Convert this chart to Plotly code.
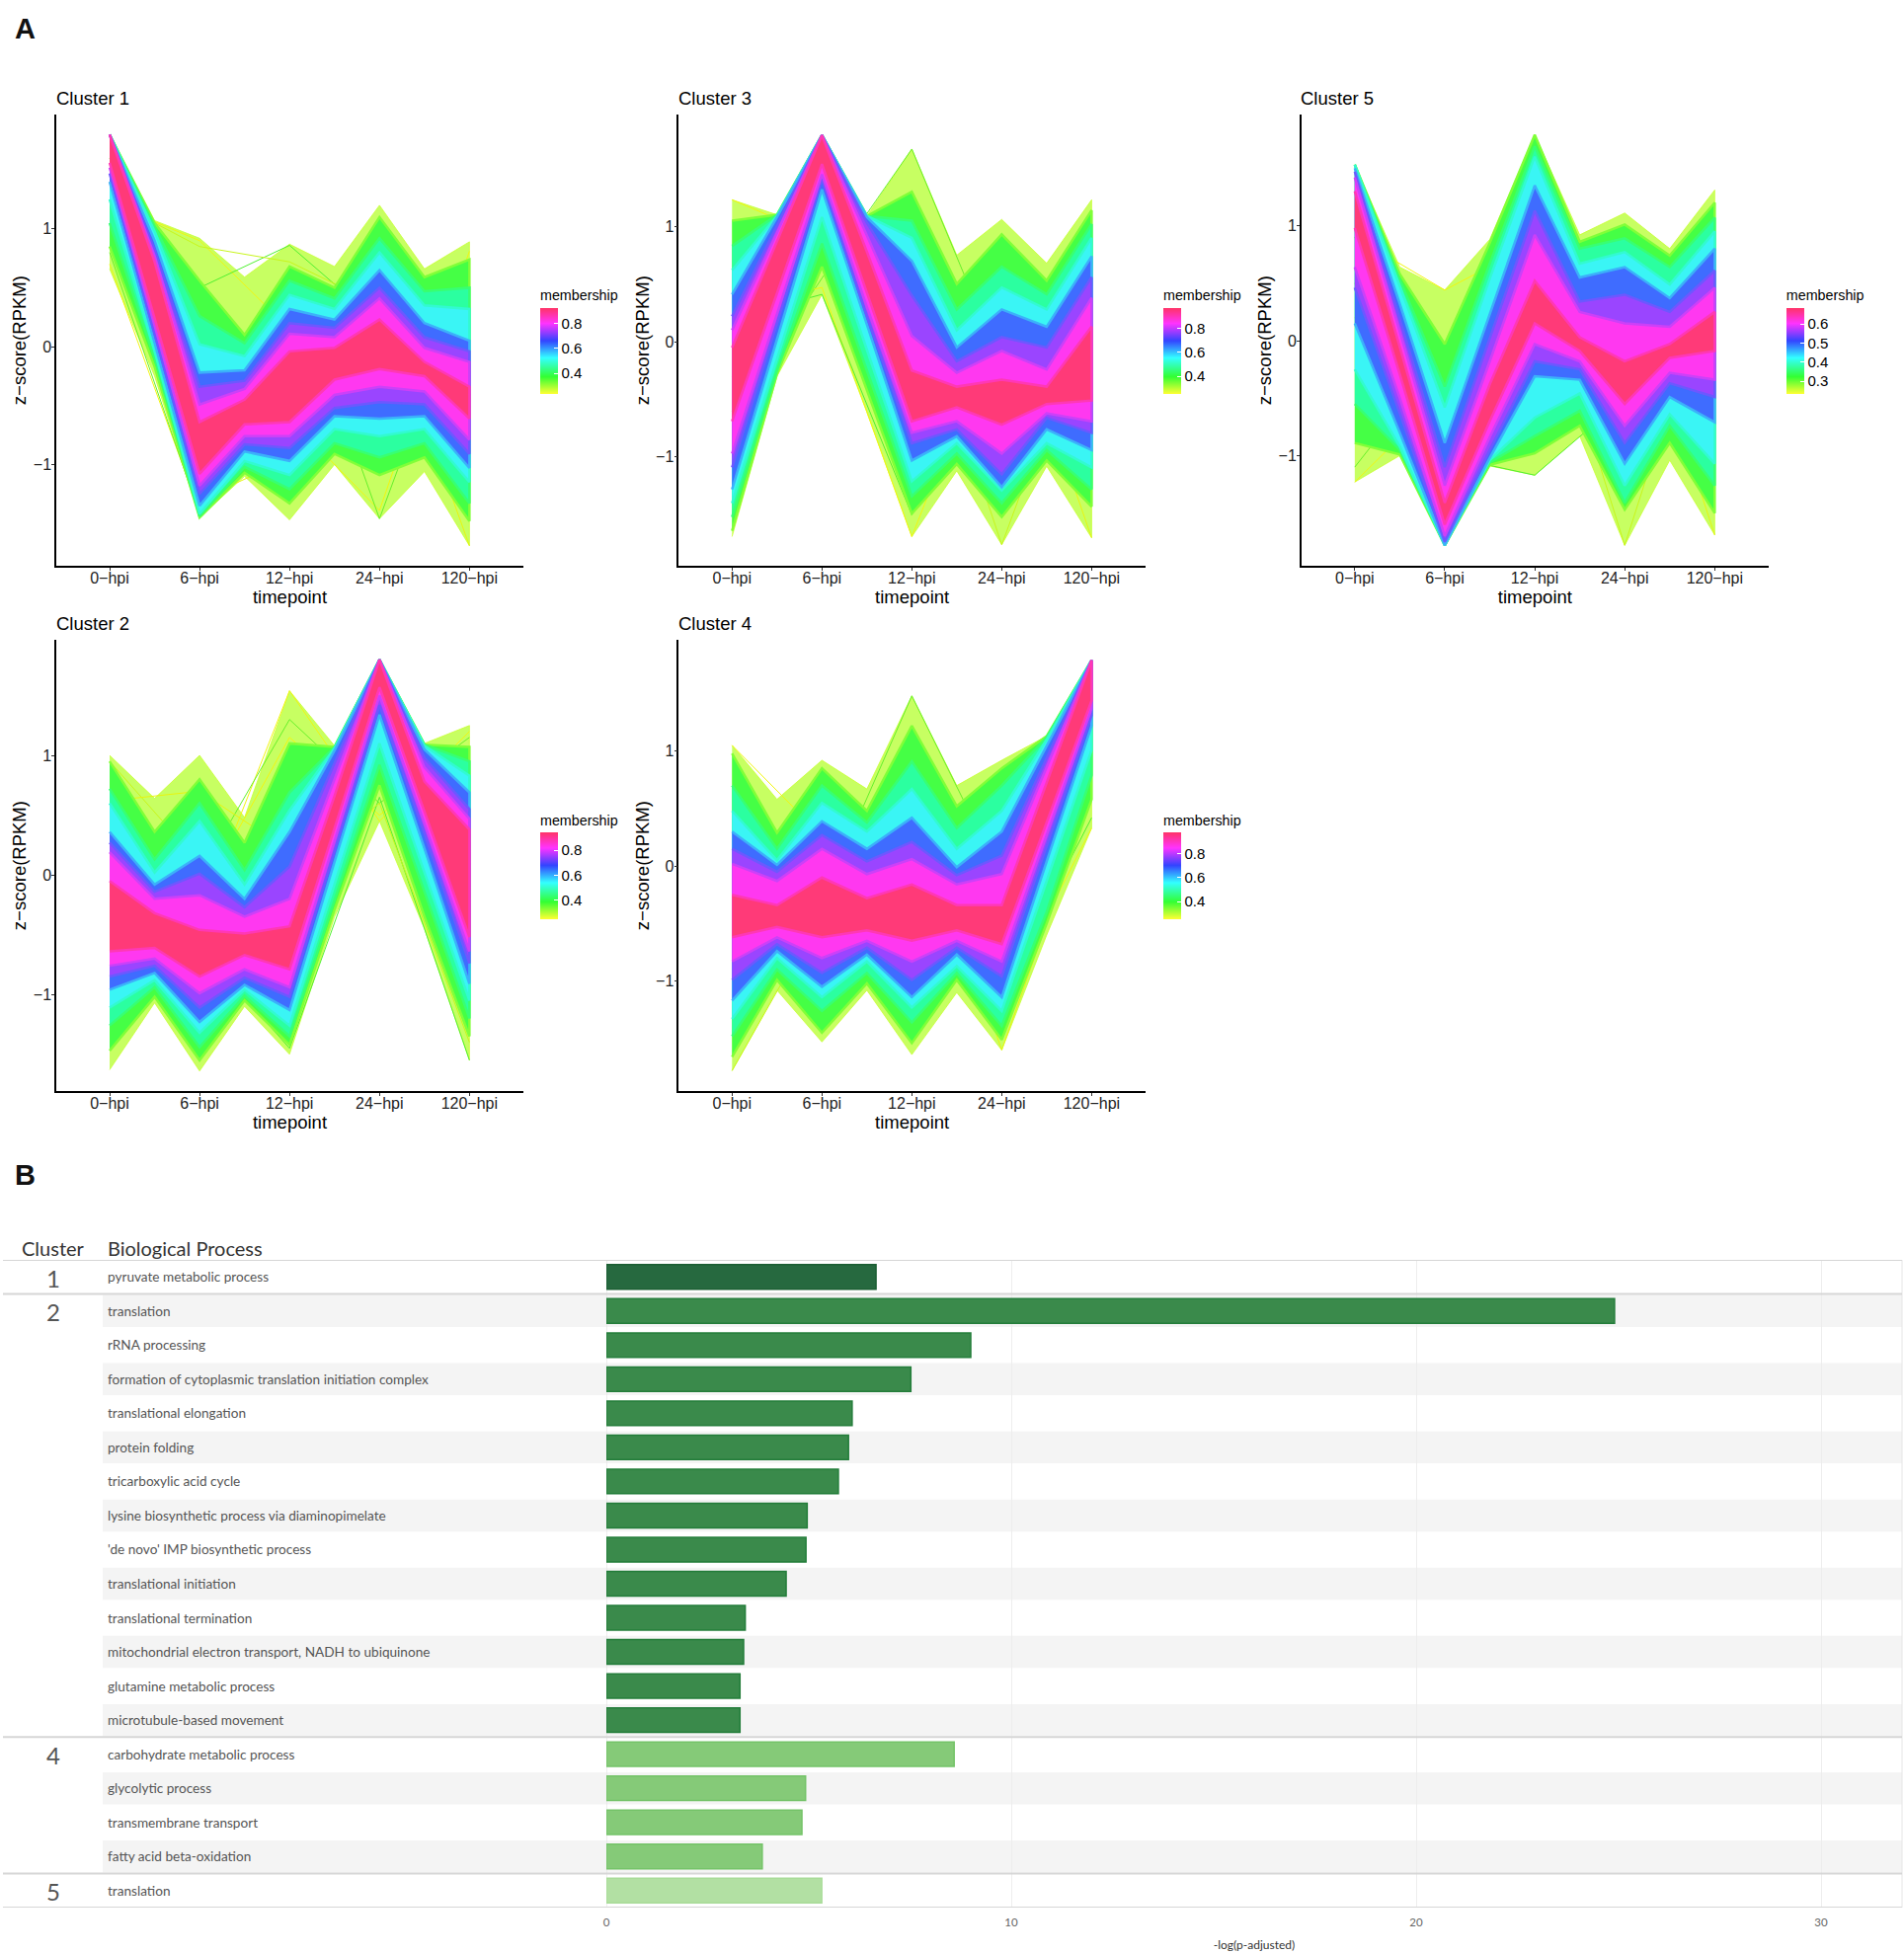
import plotly.graph_objects as go

W, H = 1928, 1979

TIME_GRID = [0, 0.5, 1, 1.5, 2, 2.5, 3, 3.5, 4]
TIME_TICKS = [0, 1, 2, 3, 4]
TIME_LABELS = ["0−hpi", "6−hpi", "12−hpi", "24−hpi", "120−hpi"]
Z_TICKS = [-1, 0, 1]
Z_LABELS = ["−1", "0", "1"]
BAND_COLORS = ["rgba(180,255,45,0.75)", "#45FF45", "#2BFFA0", "#3AF5F5", "#3F6CFF", "#9A45FF", "#FF38F0", "#FF3A78"]
BAND_EDGES = ["#C8FF30", "#80FF38", "#38FF72", "#32FAD0", "#3CB0FA", "#6C58FF", "#CC40F8", "#FF38B4"]
STRAY_COLORS = ["#F2F510", "#66F02A", "#F2F510", "#50F030", "#C8F51C", "#E8F510"]

CLUSTER1_TOP = [
    [1.80, 1.07, .92, .59, .87, .68, 1.20, .66, .89],
    [1.80, 1.05, .56, .10, .68, .50, 1.10, .59, .74],
    [1.80, 1.02, .26, .03, .56, .41, .92, .47, .50],
    [1.80, .98, .02, -.08, .44, .32, .80, .35, .32],
    [1.80, .90, -.22, -.20, .32, .23, .65, .20, .05],
    [1.80, .82, -.34, -.29, .20, .16, .50, .08, -.04],
    [1.80, .77, -.49, -.36, .11, .08, .41, -.01, -.13],
    [1.80, .72, -.64, -.45, -.04, -.01, .23, -.13, -.34],
]
CLUSTER1_BOTTOM = [
    [.66, -.25, -1.45, -1.10, -1.47, -1.00, -1.46, -1.06, -1.69],
    [.85, -.17, -1.45, -1.07, -1.33, -.91, -1.09, -.94, -1.48],
    [1.05, -.10, -1.44, -1.02, -1.21, -.82, -.94, -.82, -1.33],
    [1.25, -.04, -1.42, -.97, -1.09, -.70, -.76, -.70, -1.15],
    [1.40, .03, -1.35, -.89, -.97, -.59, -.61, -.59, -1.03],
    [1.47, .11, -1.25, -.83, -.86, -.52, -.47, -.49, -.91],
    [1.52, .18, -1.18, -.76, -.76, -.41, -.34, -.38, -.79],
    [1.56, .24, -1.08, -.66, -.64, -.28, -.19, -.25, -.61],
]
CLUSTER1_STRAYS = [
    [.70, -1.40, -.61, -1.39, .81],
    [.80, -1.42, .68, -1.46, .60],
    [1.22, .90, .15, .55, .60],
    [1.60, .50, .86, .20, .50],
    [1.25, .85, .72, .35, .65],
    [1.40, -1.30, -.95, .44, -1.69],
]
CLUSTER2_TOP = [
    [1.00, .64, 1.00, .48, 1.54, 1.08, 1.80, 1.10, 1.25],
    [.95, .36, .80, .27, 1.10, 1.07, 1.80, 1.09, 1.07],
    [.72, .13, .60, .04, .69, 1.07, 1.80, 1.09, .95],
    [.60, .02, .45, -.08, .54, 1.06, 1.80, 1.08, .83],
    [.36, -.08, .16, -.20, .36, 1.04, 1.80, 1.05, .69],
    [.27, -.14, .01, -.27, .07, .93, 1.80, .98, .55],
    [.19, -.20, -.17, -.35, -.20, .80, 1.80, .90, .47],
    [-.05, -.32, -.46, -.49, -.43, .66, 1.80, .78, .38],
]
CLUSTER2_BOTTOM = [
    [-1.63, -1.07, -1.64, -1.10, -1.50, -.35, .45, -.45, -1.55],
    [-1.47, -1.02, -1.55, -1.05, -1.42, -.29, .75, -.35, -1.35],
    [-1.26, -.94, -1.44, -1.01, -1.35, -.21, .92, -.14, -1.20],
    [-1.11, -.88, -1.32, -.96, -1.26, -.08, 1.10, .02, -1.05],
    [-.96, -.82, -1.23, -.92, -1.13, .11, 1.34, .22, -.91],
    [-.85, -.76, -1.11, -.86, -1.02, .20, 1.42, .35, -.74],
    [-.76, -.70, -.99, -.79, -.94, .28, 1.50, .43, -.64],
    [-.64, -.61, -.85, -.67, -.79, .39, 1.57, .53, -.52],
]
CLUSTER2_STRAYS = [
    [-.60, -.37, 1.54, .45, 1.20],
    [.10, .00, 1.30, .60, 1.15],
    [.00, -.20, 1.15, .50, 1.05],
    [-.80, -.60, -1.45, .65, -1.55],
    [.95, .10, .00, .60, -1.40],
    [.62, .70, .20, .80, .95],
]
CLUSTER3_TOP = [
    [1.23, 1.10, 1.79, 1.09, 1.67, .75, 1.06, .68, 1.23],
    [1.05, 1.10, 1.79, 1.09, 1.30, .50, .93, .53, 1.14],
    [.83, 1.10, 1.79, 1.09, 1.05, .28, .65, .41, 1.02],
    [.62, 1.09, 1.79, 1.09, .90, .10, .47, .28, .90],
    [.41, 1.08, 1.79, 1.08, .70, -.05, .28, .13, .74],
    [.22, 1.00, 1.79, 1.03, .40, -.17, .04, -.05, .56],
    [.10, .95, 1.79, .92, .05, -.27, -.08, -.24, .38],
    [-.05, .87, 1.79, .78, -.25, -.39, -.33, -.39, .13],
]
CLUSTER3_BOTTOM = [
    [-1.69, -.30, .41, -.61, -1.69, -1.12, -1.76, -1.08, -1.70],
    [-1.64, -.28, .65, -.42, -1.49, -1.06, -1.52, -1.03, -1.43],
    [-1.52, -.25, .85, -.25, -1.34, -.97, -1.40, -.94, -1.28],
    [-1.40, -.15, 1.08, -.07, -1.21, -.88, -1.29, -.88, -1.09],
    [-1.28, .02, 1.32, .15, -1.03, -.82, -1.26, -.76, -.94],
    [-1.09, .16, 1.41, .22, -.88, -.76, -1.15, -.66, -.79],
    [-.97, .25, 1.45, .30, -.79, -.69, -.97, -.62, -.69],
    [-.69, .42, 1.54, .42, -.69, -.57, -.72, -.54, -.51],
]
CLUSTER3_STRAYS = [
    [1.23, .90, -.80, -.30, -.70],
    [-.60, .55, 1.67, -.20, -.60],
    [.30, .47, -1.69, .29, -1.00],
    [.20, .41, -1.50, .30, -.90],
    [-.30, 1.00, .58, -1.76, .35],
    [-.60, 1.00, -.90, .55, -1.70],
]
CLUSTER4_TOP = [
    [1.05, .58, .92, .67, 1.48, .70, .92, 1.13, 1.79],
    [.98, .29, .85, .48, 1.22, .52, .85, 1.13, 1.79],
    [.70, .15, .70, .38, .91, .33, .70, 1.12, 1.79],
    [.48, .05, .55, .30, .67, .15, .48, 1.10, 1.79],
    [.30, .01, .39, .15, .42, -.01, .30, 1.04, 1.79],
    [.15, -.05, .27, .04, .21, -.08, .09, .94, 1.79],
    [.02, -.13, .15, -.07, .06, -.16, -.07, .86, 1.79],
    [-.25, -.34, -.10, -.28, -.16, -.34, -.34, .72, 1.79],
]
CLUSTER4_BOTTOM = [
    [-1.78, -1.08, -1.53, -1.08, -1.64, -1.10, -1.60, -.60, .33],
    [-1.66, -.99, -1.45, -1.02, -1.54, -.99, -1.51, -.50, .58],
    [-1.48, -.90, -1.26, -.93, -1.36, -.93, -1.39, -.40, .79],
    [-1.33, -.80, -1.14, -.83, -1.23, -.87, -1.26, -.13, 1.01],
    [-1.17, -.74, -1.05, -.77, -1.14, -.77, -1.14, .04, 1.22],
    [-.99, -.68, -.93, -.71, -.99, -.71, -.96, .18, 1.31],
    [-.83, -.62, -.80, -.65, -.83, -.65, -.83, .27, 1.37],
    [-.62, -.53, -.62, -.56, -.65, -.56, -.68, .38, 1.44],
]
CLUSTER4_STRAYS = [
    [1.05, .26, .10, .00, .90],
    [-.50, -.30, 1.48, -.10, 1.10],
    [-.50, -.60, -.50, -1.20, .33],
    [-.60, -.50, -.40, -1.10, .42],
    [-1.78, -.40, -.30, -.40, 1.10],
    [-.50, -.60, .66, -1.60, .60],
]
CLUSTER5_TOP = [
    [1.53, .64, .44, .88, 1.79, .92, 1.11, .80, 1.31],
    [1.53, .58, -.03, .85, 1.79, .86, 1.01, .74, 1.20],
    [1.53, .53, -.40, .67, 1.69, .80, .89, .64, 1.07],
    [1.53, .47, -.58, .54, 1.60, .67, .77, .49, .95],
    [1.50, .32, -.89, .23, 1.35, .55, .64, .37, .80],
    [1.47, .18, -1.10, .02, 1.13, .34, .40, .25, .61],
    [1.42, .09, -1.26, -.18, .92, .25, .15, .12, .46],
    [1.30, -.05, -1.41, -.38, .52, .03, -.18, -.03, .25],
]
CLUSTER5_BOTTOM = [
    [-1.23, -1.00, -1.78, -1.09, -1.17, -.83, -1.78, -1.04, -1.69],
    [-.89, -.99, -1.78, -1.08, -.98, -.74, -1.47, -.89, -1.50],
    [-.55, -.95, -1.78, -1.06, -.83, -.61, -1.41, -.74, -1.26],
    [-.25, -.92, -1.78, -1.04, -.67, -.46, -1.26, -.64, -1.07],
    [.15, -.80, -1.78, -1.02, -.31, -.34, -1.07, -.49, -.71],
    [.46, -.63, -1.75, -.95, -.18, -.25, -.89, -.37, -.49],
    [.64, -.50, -1.70, -.84, -.03, -.18, -.74, -.28, -.34],
    [.98, -.29, -1.60, -.70, .15, -.09, -.55, -.15, -.09],
]
CLUSTER5_STRAYS = [
    [-1.23, -.46, .60, -.30, -.20],
    [-1.10, -.10, .50, .00, .10],
    [.90, .44, .85, .30, .10],
    [.90, -1.00, -1.17, -.50, -.30],
    [.50, -1.20, .73, -1.78, .66],
    [.20, -.90, .10, .70, -1.69],
]

PROCESS_CLUSTER = [1, 2, 2, 2, 2, 2, 2, 2, 2, 2, 2, 2, 2, 2, 4, 4, 4, 4, 5]
PROCESS_NAMES = [
    "pyruvate metabolic process", "translation", "rRNA processing",
    "formation of cytoplasmic translation initiation complex", "translational elongation",
    "protein folding", "tricarboxylic acid cycle", "lysine biosynthetic process via diaminopimelate",
    "'de novo' IMP biosynthetic process", "translational initiation", "translational termination",
    "mitochondrial electron transport, NADH to ubiquinone", "glutamine metabolic process",
    "microtubule-based movement", "carbohydrate metabolic process", "glycolytic process",
    "transmembrane transport", "fatty acid beta-oxidation", "translation",
]
PROCESS_VALUES = [6.66, 24.9, 9.0, 7.52, 6.07, 5.98, 5.73, 4.96, 4.93, 4.44, 3.43, 3.39, 3.30, 3.30,
                  8.59, 4.92, 4.83, 3.85, 5.32]
CLUSTER_FILL = {1: "#26693F", 2: "#3A8A4B", 4: "#85CA78", 5: "#B2E0A3"}
CLUSTER_EDGE = {1: "#1B5E33", 2: "#237D3A", 4: "#74C368", 5: "#A9DC99"}

SANS = "Liberation Sans, Arial, sans-serif"
BOOK = "Lato, Open Sans, sans-serif"
RAMP = [[0, "#FFFF33"], [0.2, "#33FF33"], [0.42, "#33FFFF"], [0.62, "#3344FF"],
        [0.82, "#FF33FF"], [1, "#FF3366"]]

# name, top band, bottom band, strays, axis box px (l, r, t, b), y range, colourbar box, colour range, ticks
PANELS = [
    ("Cluster 1", CLUSTER1_TOP, CLUSTER1_BOTTOM, CLUSTER1_STRAYS, (57, 530, 116.4, 572.9), (-1.859, 1.967),
     (547, 311, 398.6), (.238, .925), [.4, .6, .8]),
    ("Cluster 3", CLUSTER3_TOP, CLUSTER3_BOTTOM, CLUSTER3_STRAYS, (687.3, 1160, 116.4, 572.9), (-1.942, 1.966),
     (1178, 311, 398.6), (.257, .969), [.4, .6, .8]),
    ("Cluster 5", CLUSTER5_TOP, CLUSTER5_BOTTOM, CLUSTER5_STRAYS, (1317.8, 1791, 116.4, 572.9), (-1.957, 1.963),
     (1808.8, 311, 398.6), (.235, .685), [.3, .4, .5, .6]),
    ("Cluster 2", CLUSTER2_TOP, CLUSTER2_BOTTOM, CLUSTER2_STRAYS, (57, 530, 648.2, 1105), (-1.808, 1.965),
     (547, 842.5, 931), (.25, .943), [.4, .6, .8]),
    ("Cluster 4", CLUSTER4_TOP, CLUSTER4_BOTTOM, CLUSTER4_STRAYS, (687.3, 1160, 648.2, 1105), (-1.957, 1.966),
     (1178, 842.5, 931), (.252, .979), [.4, .6, .8]),
]


def px(x):
    return x / W


def py(y):
    return 1 - y / H


fig = go.Figure()
layout = dict(
    width=W, height=H, margin=dict(l=0, r=0, t=0, b=0, autoexpand=False), autosize=False,
    paper_bgcolor="white", plot_bgcolor="rgba(0,0,0,0)", showlegend=False,
    font=dict(family=SANS, color="#000000"), annotations=[], shapes=[],
)

for i, (name, top, bottom, strays, box, yr, cb, cr, cticks) in enumerate(PANELS):
    n = i + 1
    xa, ya = f"xaxis{n}", f"yaxis{n}"
    xr, yref = f"x{n}", f"y{n}"
    l, r, t, b = box
    layout[xa] = dict(domain=[px(l), px(r)], anchor=yref, range=[-0.593, 4.6],
                      tickvals=TIME_TICKS, ticktext=TIME_LABELS, tickfont=dict(size=16, color="#222"),
                      showline=True, linecolor="#000", linewidth=1.5, ticks="outside", ticklen=3,
                      tickcolor="#333", showgrid=False, zeroline=False, ticklabelstandoff=-6,
                      title=dict(text="timepoint", font=dict(size=18.5), standoff=2))
    layout[ya] = dict(domain=[py(b), py(t)], anchor=xr, range=list(yr),
                      tickvals=Z_TICKS, ticktext=Z_LABELS, tickfont=dict(size=16, color="#222"),
                      showline=True, linecolor="#000", linewidth=1.5, ticks="outside", ticklen=3,
                      tickcolor="#333", showgrid=False, zeroline=False, ticklabelstandoff=-3,
                      title=dict(text="z−score(RPKM)", font=dict(size=18.5), standoff=2))
    for lvl, (c, e, u, d) in enumerate(zip(BAND_COLORS, BAND_EDGES, top, bottom)):
        fig.add_trace(go.Scatter(x=TIME_GRID + TIME_GRID[::-1], y=u + d[::-1], xaxis=xr, yaxis=yref,
                                 mode="lines", fill="toself", fillcolor=c,
                                 line=dict(color=e, width=0.8 if lvl == 0 else 2.5), hoverinfo="skip"))
        if lvl == 0:
            for s, sc in zip(strays, STRAY_COLORS):
                fig.add_trace(go.Scatter(x=TIME_TICKS, y=s, xaxis=xr, yaxis=yref, mode="lines",
                                         line=dict(color=sc, width=1), hoverinfo="skip"))
    cx, ct, cb_b = cb
    fig.add_trace(go.Scatter(
        x=[None, None], y=[None, None], xaxis=xr, yaxis=yref, mode="markers", hoverinfo="skip",
        marker=dict(color=list(cr), cmin=cr[0], cmax=cr[1], colorscale=RAMP, showscale=True, size=1,
                    colorbar=dict(
                        x=px(cx), xanchor="left", xref="paper", y=py(cb_b), yanchor="bottom", yref="paper",
                        len=cb_b - ct + 20.6, lenmode="pixels", thickness=18, thicknessmode="pixels",
                        outlinewidth=0, borderwidth=0, xpad=0, ypad=0,
                        tickvals=cticks, ticktext=[str(v) for v in cticks],
                        ticks="inside", ticklen=4, tickcolor="white",
                        tickfont=dict(size=15, color="#000"),
                        title=dict(text="membership", side="top", font=dict(size=14.3))))))
    layout["annotations"].append(dict(text=name, xref="paper", yref="paper", x=px(l - 2.5), y=py(t - 16.5),
                                      xanchor="left", yanchor="middle", showarrow=False,
                                      font=dict(size=18.5, color="#000")))

for letter, y in (("A", 29), ("B", 1190)):
    layout["annotations"].append(dict(text=f"<b>{letter}</b>", xref="paper", yref="paper", x=px(13), y=py(y),
                                      xanchor="left", yanchor="middle", showarrow=False,
                                      font=dict(size=29, color="#111")))

# Panel B
B_L, B_R, B_T, B_B = 614, 1926, 1276, 1932
rows = list(range(len(PROCESS_NAMES)))
layout["xaxis6"] = dict(domain=[px(B_L), px(B_R)], anchor="y6", range=[0, (B_R - B_L) / 41],
                        tickvals=[0, 10, 20, 30], ticktext=["0", "10", "20", "30"],
                        tickfont=dict(size=11.5, color="#666", family=BOOK), ticks="", ticklabelstandoff=6,
                        showline=False, zeroline=False, showgrid=True, gridcolor="#EDEDED", gridwidth=1,
                        title=dict(text="-log(p-adjusted)", font=dict(size=12, color="#333", family=BOOK),
                                   standoff=14))
layout["yaxis6"] = dict(domain=[py(B_B), py(B_T)], anchor="x6", range=[len(rows) - 0.5, -0.5],
                        showticklabels=False, ticks="", showgrid=False, zeroline=False, showline=False)

for r_ in rows:
    if r_ % 2 == 1:
        layout["shapes"].append(dict(type="rect", xref="paper", yref="y6", x0=px(104), x1=px(B_R),
                                     y0=r_ - 0.47, y1=r_ + 0.47, fillcolor="#F4F4F4", line_width=0, layer="below"))
    layout["annotations"].append(dict(text=PROCESS_NAMES[r_], xref="paper", yref="y6", x=px(106.5), y=r_,
                                      xanchor="left", yanchor="middle", showarrow=False,
                                      font=dict(size=13.6, color="#555", family=BOOK)))
    if r_ == 0 or PROCESS_CLUSTER[r_] != PROCESS_CLUSTER[r_ - 1]:
        layout["annotations"].append(dict(text=str(PROCESS_CLUSTER[r_]), xref="paper", yref="y6", x=px(53.5), y=r_,
                                          xanchor="center", yanchor="middle", showarrow=False,
                                          yshift=-1, font=dict(size=24, color="#555", family=BOOK)))
        layout["shapes"].append(dict(type="line", xref="paper", yref="y6", x0=px(3), x1=px(B_R),
                                     y0=r_ - 0.5, y1=r_ - 0.5, line=dict(color="#D6D6D6", width=2), layer="above"))
layout["shapes"].append(dict(type="line", xref="paper", yref="y6", x0=px(3), x1=px(B_R),
                             y0=len(rows) - 0.5, y1=len(rows) - 0.5, line=dict(color="#D6D6D6", width=2), layer="above"))
layout["shapes"].append(dict(type="line", xref="x6", yref="y6", x0=0, x1=0, y0=-0.5, y1=len(rows) - 0.5,
                             line=dict(color="#DDDDDD", width=1), layer="below"))
layout["shapes"].append(dict(type="line", xref="paper", yref="y6", x0=px(B_R), x1=px(B_R), y0=-0.5, y1=len(rows) - 0.5,
                             line=dict(color="#E6E6E6", width=1), layer="below"))

for label, x, anchor, size in (("Cluster", 54, "center", 20), ("Biological Process", 106.5, "left", 20)):
    layout["annotations"].append(dict(text=label, xref="paper", yref="paper", x=px(x), y=py(1264),
                                      xanchor=anchor, yanchor="middle", showarrow=False,
                                      font=dict(size=size, color="#333", family=BOOK)))

fig.add_trace(go.Bar(x=PROCESS_VALUES, y=rows, orientation="h", xaxis="x6", yaxis="y6", width=0.72,
                     marker=dict(color=[CLUSTER_FILL[c] for c in PROCESS_CLUSTER],
                                 line=dict(color=[CLUSTER_EDGE[c] for c in PROCESS_CLUSTER], width=1.5)),
                     hoverinfo="skip"))

fig.update_layout(**layout)
fig.write_html("out.html", post_script="document.body.style.margin='0';", config={"displayModeBar": False})
